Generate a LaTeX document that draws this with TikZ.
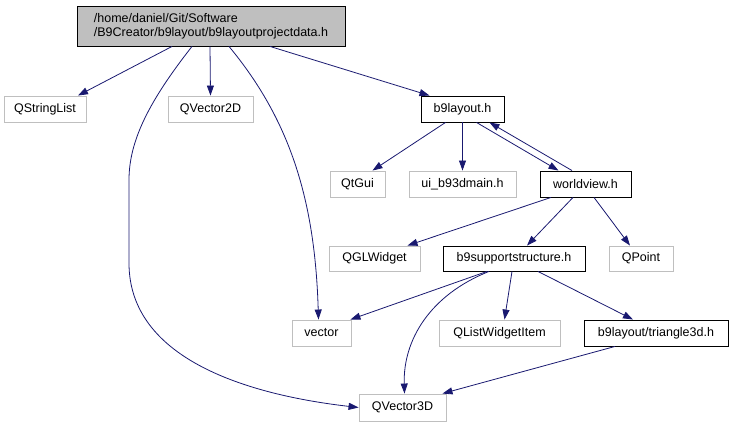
\documentclass[tikz,border=0pt]{standalone}
\usepackage{fontspec}
\setmainfont{Liberation Sans}
\usetikzlibrary{arrows.meta}
\definecolor{edgecol}{HTML}{191970}
\definecolor{grayborder}{HTML}{BFBFBF}
\definecolor{rootfill}{HTML}{BFBFBF}
\tikzset{
  box/.style={draw=black, fill=white, line width=0.9pt, inner sep=0pt, font=\fontsize{12.5}{14}\selectfont},
  extbox/.style={draw=grayborder, fill=white, line width=0.9pt, inner sep=0pt, font=\fontsize{12.5}{14}\selectfont},
  dep/.style={draw=edgecol, line width=0.8pt, -{Triangle[length=10pt,width=7pt]}},
}
\begin{document}
\begin{tikzpicture}[x=1pt,y=-1pt]
\useasboundingbox (0,0) rectangle (732,427);
% nodes
\node[box, fill=rootfill, minimum width=268pt, minimum height=40pt, align=left] (root) at (211,26) {/home/daniel/Git/Software\\/B9Creator/b9layout/b9layoutprojectdata.h};
\node[extbox, minimum width=82pt, minimum height=26pt] (qsl) at (45,109) {QStringList};
\node[extbox, minimum width=85pt, minimum height=26pt] (qv2) at (210.5,109) {QVector2D};
\node[box, minimum width=83pt, minimum height=26pt] (b9l) at (462.5,109) {b9layout.h};
\node[extbox, minimum width=55pt, minimum height=26pt] (qtgui) at (357.5,184) {QtGui};
\node[extbox, minimum width=107pt, minimum height=26pt] (ui) at (462.5,184) {ui\_b93dmain.h};
\node[box, minimum width=91pt, minimum height=26pt] (wv) at (585.5,184) {worldview.h};
\node[extbox, minimum width=91pt, minimum height=25pt] (qgl) at (374.5,258.5) {QGLWidget};
\node[box, minimum width=142pt, minimum height=25pt] (b9s) at (514,258.5) {b9supportstructure.h};
\node[extbox, minimum width=64pt, minimum height=25pt] (qpt) at (641,258.5) {QPoint};
\node[extbox, minimum width=59pt, minimum height=26pt] (vec) at (321.5,333) {vector};
\node[extbox, minimum width=121pt, minimum height=26pt] (qlw) at (499.5,333) {QListWidgetItem};
\node[box, minimum width=144pt, minimum height=26pt] (tri) at (656,333) {b9layout/triangle3d.h};
\node[extbox, minimum width=87pt, minimum height=27pt] (qv3) at (402.5,407.5) {QVector3D};
% edges
\draw[dep] ([xshift=-39pt]root.south) -- ([xshift=33pt]qsl.north);
\draw[dep] ([xshift=-1pt]root.south) -- (qv2.north);
\draw[dep] ([xshift=18pt]root.south) .. controls (290,120) and (315,200) .. ([xshift=-3pt]vec.north);
\draw[dep] ([xshift=-19pt]root.south) .. controls (150,100) and (129,140) .. (129,180) -- (129,263) .. controls (129,360) and (250,395) .. (qv3.west);
\draw[dep] ([xshift=59pt]root.south) -- ([xshift=-33pt]b9l.north);
\draw[dep] ([xshift=-17pt]b9l.south) -- ([xshift=15pt]qtgui.north);
\draw[dep] (b9l.south) -- (ui.north);
\draw[dep] ([xshift=14pt]b9l.south) -- ([xshift=-27pt]wv.north);
\draw[dep] ([xshift=-13.5pt]wv.north) -- ([xshift=27pt]b9l.south);
\draw[dep] ([xshift=-34.5pt]wv.south) -- ([xshift=33pt]qgl.north);
\draw[dep] ([xshift=-12.5pt]wv.south) -- ([xshift=13pt]b9s.north);
\draw[dep] ([xshift=8.5pt]wv.south) -- ([xshift=-11pt]qpt.north);
\draw[dep] ([xshift=-27pt]b9s.south) -- ([xshift=-1pt]vec.north east);
\draw[dep] ([xshift=-25pt]b9s.south) .. controls (430,295) and (403,340) .. ([xshift=2pt]qv3.north);
\draw[dep] ([xshift=-2pt]b9s.south) -- ([xshift=5pt]qlw.north);
\draw[dep] ([xshift=24pt]b9s.south) -- ([xshift=-23pt]tri.north);
\draw[dep] ([xshift=-41pt]tri.south) -- ([xshift=40pt]qv3.north);
\end{tikzpicture}
\end{document}
